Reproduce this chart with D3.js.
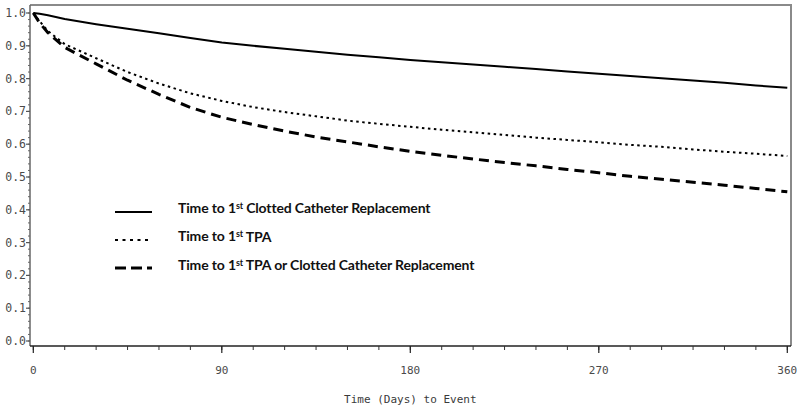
<!DOCTYPE html>
<html>
<head>
<meta charset="utf-8">
<script src="https://cdn.jsdelivr.net/npm/d3@7"></script>
<style>
  html, body { margin: 0; padding: 0; background: #fff; }
  svg { display: block; }
</style>
</head>
<body>
<svg id="chart" width="800" height="413"></svg>
<script>
// ---- data ----
const days = [0, 3, 7, 15, 30, 45, 60, 75, 90, 105, 120, 135, 150, 165, 180, 195, 210, 225, 240, 255, 270, 285, 300, 315, 330, 345, 360];
const clottedReplacement = [1.0, 0.998, 0.993, 0.982, 0.966, 0.952, 0.938, 0.924, 0.910, 0.900, 0.891, 0.882, 0.873, 0.865, 0.857, 0.850, 0.843, 0.836, 0.829, 0.822, 0.815, 0.808, 0.801, 0.794, 0.787, 0.779, 0.772];
const firstTPA = [1.0, 0.975, 0.945, 0.905, 0.862, 0.820, 0.785, 0.755, 0.732, 0.713, 0.698, 0.685, 0.672, 0.662, 0.653, 0.644, 0.636, 0.628, 0.620, 0.613, 0.606, 0.598, 0.592, 0.584, 0.577, 0.571, 0.564];
const tpaOrClotted = [1.0, 0.970, 0.940, 0.895, 0.845, 0.795, 0.752, 0.712, 0.682, 0.660, 0.640, 0.622, 0.607, 0.592, 0.578, 0.566, 0.555, 0.544, 0.534, 0.523, 0.513, 0.502, 0.493, 0.484, 0.475, 0.465, 0.455];
const xTicks = [0, 90, 180, 270, 360];
const yTicks = [0.0, 0.1, 0.2, 0.3, 0.4, 0.5, 0.6, 0.7, 0.8, 0.9, 1.0];
const xTitle = "Time (Days) to Event";
const legendLabels = [
  ["Time to 1", "st", " Clotted Catheter Replacement"],
  ["Time to 1", "st", " TPA"],
  ["Time to 1", "st", " TPA or Clotted Catheter Replacement"]
];

// ---- layout ----
const svg = d3.select("#chart");
const frame = { left: 30, top: 5, right: 791, bottom: 346 };
const x = d3.scaleLinear().domain([0, 360]).range([33.3, 787.3]);
const y = d3.scaleLinear().domain([0, 1]).range([341, 13]);

const tickFont = "'DejaVu Sans Mono', monospace";

// frame (top & right gray)
svg.append("path")
  .attr("d", `M${frame.left},${frame.top} H${frame.right} V${frame.bottom}`)
  .attr("fill", "none").attr("stroke", "#8a8a8a").attr("stroke-width", 2);

// y axis
const yAxisG = svg.append("g").attr("transform", `translate(${frame.left},0)`);
yAxisG.append("line").attr("x1", 0).attr("x2", 0).attr("y1", frame.top).attr("y2", frame.bottom)
  .attr("stroke", "#666").attr("stroke-width", 1.5);
const yMinor = d3.range(0, 101, 2).map(d => d / 100);
yAxisG.selectAll("line.minor").data(yMinor).join("line")
  .attr("class", "minor")
  .attr("x1", -2).attr("x2", 0)
  .attr("y1", d => y(d)).attr("y2", d => y(d))
  .attr("stroke", "#666").attr("stroke-width", 1);
yAxisG.selectAll("line.major").data(yTicks).join("line")
  .attr("class", "major")
  .attr("x1", -4).attr("x2", 0)
  .attr("y1", d => y(d)).attr("y2", d => y(d))
  .attr("stroke", "#555").attr("stroke-width", 1.2);
yAxisG.selectAll("text").data(yTicks).join("text")
  .attr("x", -4).attr("y", d => y(d))
  .attr("dy", "0.35em")
  .attr("text-anchor", "end")
  .attr("font-family", tickFont).attr("font-size", 11.5)
  .attr("fill", "#4a4a4a")
  .text(d => d3.format(".1f")(d));

// x axis
const xAxisG = svg.append("g").attr("transform", `translate(0,${frame.bottom})`);
xAxisG.append("line").attr("x1", frame.left).attr("x2", frame.right).attr("y1", 0).attr("y2", 0)
  .attr("stroke", "#222").attr("stroke-width", 1.5);
const xMinor = d3.range(0, 361, 15);
xAxisG.selectAll("line.minor").data(xMinor).join("line")
  .attr("class", "minor")
  .attr("x1", d => x(d)).attr("x2", d => x(d))
  .attr("y1", 0).attr("y2", 4)
  .attr("stroke", "#333").attr("stroke-width", 1);
xAxisG.selectAll("line.major").data(xTicks).join("line")
  .attr("class", "major")
  .attr("x1", d => x(d)).attr("x2", d => x(d))
  .attr("y1", 0).attr("y2", 7)
  .attr("stroke", "#222").attr("stroke-width", 1.2);
xAxisG.selectAll("text").data(xTicks).join("text")
  .attr("x", d => x(d)).attr("y", 24)
  .attr("dy", "0.35em")
  .attr("text-anchor", "middle")
  .attr("font-family", tickFont).attr("font-size", 11)
  .attr("fill", "#4a4a4a")
  .text(d => d);

svg.append("text")
  .attr("x", x(180)).attr("y", 399).attr("dy", "0.35em")
  .attr("text-anchor", "middle")
  .attr("font-family", tickFont).attr("font-size", 11)
  .attr("fill", "#3a3a3a")
  .text(xTitle);

// curves
const series = [
  { values: clottedReplacement, width: 2, dash: null },
  { values: firstTPA, width: 2, dash: "2.5,3.5" },
  { values: tpaOrClotted, width: 3, dash: "10,6" }
];
const line = d3.line().x(d => x(d[0])).y(d => y(d[1])).curve(d3.curveLinear);
series.forEach(s => {
  svg.append("path")
    .datum(days.map((d, i) => [d, s.values[i]]))
    .attr("d", line)
    .attr("fill", "none")
    .attr("stroke", "#000")
    .attr("stroke-width", s.width)
    .attr("stroke-dasharray", s.dash)
    .attr("stroke-linejoin", "round");
});

// legend
const legendY = [212, 240, 268];
const legendTextY = [208, 236.5, 265];
const legendFont = "Lato, 'Open Sans', sans-serif";
series.forEach((s, i) => {
  svg.append("line")
    .attr("x1", 115).attr("x2", 152)
    .attr("y1", legendY[i]).attr("y2", legendY[i])
    .attr("stroke", "#000")
    .attr("stroke-width", s.width)
    .attr("stroke-dasharray", i === 1 ? "3,4.5" : (i === 2 ? "11,5" : null));
  const t = svg.append("text")
    .attr("x", 178).attr("y", legendTextY[i]).attr("dy", "0.35em")
    .attr("font-family", legendFont).attr("font-weight", "bold")
    .attr("font-size", 14).attr("letter-spacing", -0.15).attr("fill", "#111");
  t.append("tspan").text(legendLabels[i][0]);
  t.append("tspan").attr("font-size", 9).attr("dy", "-0.45em").text(legendLabels[i][1]);
  t.append("tspan").attr("dy", "0.3em").text(legendLabels[i][2]);
});
</script>
</body>
</html>
